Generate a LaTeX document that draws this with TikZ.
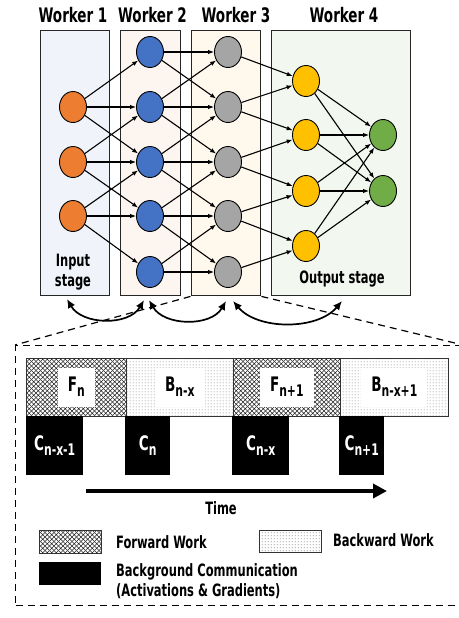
\documentclass[tikz,border=0pt]{standalone}
\usepackage{fontspec}
\setmainfont{DejaVu Sans Condensed}[FakeStretch=0.75]
\usetikzlibrary{shapes.geometric,arrows.meta,patterns,patterns.meta}
\definecolor{stageOne}{RGB}{240,244,250}
\definecolor{stageTwo}{RGB}{252,245,240}
\definecolor{stageThree}{RGB}{255,249,237}
\definecolor{stageFour}{RGB}{242,248,240}
\definecolor{nodeOrange}{RGB}{237,125,49}
\definecolor{nodeBlue}{RGB}{68,114,196}
\definecolor{nodeGray}{RGB}{165,165,165}
\definecolor{nodeYellow}{RGB}{255,192,0}
\definecolor{nodeGreen}{RGB}{112,173,71}
\newcommand{\subidx}[1]{\raisebox{-0.45ex}{\fontsize{16}{16}\selectfont #1}}
\tikzdeclarepattern{name=diamonds, type=uncolored,
  bounding box={(-0.5pt,-0.5pt) and (5pt,5pt)}, tile size={(4.5pt,4.5pt)},
  code={\draw[line width=0.45pt] (0,0) -- (4.5pt,4.5pt) (0,4.5pt) -- (4.5pt,0);}}
\tikzdeclarepattern{name=sparsedots, type=uncolored,
  bounding box={(0,0) and (3pt,3pt)}, tile size={(3pt,3pt)},
  code={\fill (1.5pt,1.5pt) circle (0.6pt);}}

\begin{document}
\begin{tikzpicture}[x=1pt, y=1pt,
    stage/.style={draw=black!85, line width=1.4pt, anchor=north west, inner sep=0pt, minimum height=265pt},
    neuron/.style={ellipse, draw=black, line width=0.9pt, minimum width=27pt, minimum height=31pt, inner sep=0pt},
    link/.style={-{Latex[length=6pt,width=4.5pt]}, line width=1.1pt},
    handoff/.style={{Latex[length=9pt,width=8pt]}-{Latex[length=9pt,width=8pt]}, line width=1.7pt},
    zoomline/.style={line width=1.2pt, dash pattern=on 7pt off 5pt},
    title/.style={font=\bfseries\fontsize{20}{22}\selectfont},
    fwdfill/.style={pattern=diamonds, pattern color=black!85},
    bwdfill/.style={pattern=sparsedots, pattern color=black!70},
    cell/.style={draw=black!80, line width=0.6pt, anchor=north west, inner sep=0pt, minimum height=57.5pt},
    celltext/.style={fill=white, inner xsep=10pt, minimum height=39pt, font=\bfseries\fontsize{20}{22}\selectfont},
    comm/.style={fill=black, text=white, anchor=north west, inner sep=0pt, minimum height=59pt, font=\bfseries\fontsize{20}{22}\selectfont},
    legtext/.style={anchor=west, inner sep=0pt, font=\bfseries\fontsize{17}{20}\selectfont}]
\useasboundingbox (0,0) rectangle (458,-618);

% Workers
\node[stage, fill=stageOne, minimum width=69pt] (w1) at (40,-30) {};
\node[stage, fill=stageTwo, minimum width=60pt] (w2) at (120,-30) {};
\node[stage, fill=stageThree, minimum width=69.5pt] (w3) at (190.5,-30) {};
\node[stage, fill=stageFour, minimum width=139.5pt] (w4) at (270.5,-30) {};
\node[title] (t1) at (73,-15) {Worker 1};
\node[title] (t2) at (152.5,-15) {Worker 2};
\node[title] (t3) at (236,-15) {Worker 3};
\node[title] (t4) at (344,-15) {Worker 4};
\node[align=center, font=\bfseries\fontsize{17}{20}\selectfont] (inlabel) at (73,-272) {Input\\stage};
\node[font=\bfseries\fontsize{17}{20}\selectfont] (outlabel) at (342,-279) {Output stage};

% Input layer
\node[neuron, fill=nodeOrange] (in1) at (73,-107) {};
\node[neuron, fill=nodeOrange] (in2) at (73,-162) {};
\node[neuron, fill=nodeOrange] (in3) at (73,-216) {};

% Hidden layers
\node[neuron, fill=nodeBlue] (blu1) at (150,-52) {};
\node[neuron, fill=nodeBlue] (blu2) at (150,-107) {};
\node[neuron, fill=nodeBlue] (blu3) at (150,-162) {};
\node[neuron, fill=nodeBlue] (blu4) at (150,-216) {};
\node[neuron, fill=nodeBlue] (blu5) at (150,-272) {};
\node[neuron, fill=nodeGray] (gry1) at (228,-52) {};
\node[neuron, fill=nodeGray] (gry2) at (228,-107) {};
\node[neuron, fill=nodeGray] (gry3) at (228,-162) {};
\node[neuron, fill=nodeGray] (gry4) at (228,-216) {};
\node[neuron, fill=nodeGray] (gry5) at (228,-272) {};

% Output layers
\node[neuron, fill=nodeYellow] (ylw1) at (306,-81) {};
\node[neuron, fill=nodeYellow] (ylw2) at (306,-135) {};
\node[neuron, fill=nodeYellow] (ylw3) at (306,-191) {};
\node[neuron, fill=nodeYellow] (ylw4) at (306,-246) {};
\node[neuron, fill=nodeGreen] (grn1) at (383,-135) {};
\node[neuron, fill=nodeGreen] (grn2) at (383,-191) {};

% Links
\draw[link] (in1) -- (blu1);
\draw[link] (in1) -- (blu2);
\draw[link] (in1) -- (blu3);
\draw[link] (in2) -- (blu2);
\draw[link] (in2) -- (blu3);
\draw[link] (in2) -- (blu4);
\draw[link] (in3) -- (blu3);
\draw[link] (in3) -- (blu4);
\draw[link] (in3) -- (blu5);
\draw[link] (blu1) -- (gry1);
\draw[link] (blu1) -- (gry2);
\draw[link] (blu2) -- (gry1);
\draw[link] (blu2) -- (gry2);
\draw[link] (blu2) -- (gry3);
\draw[link] (blu3) -- (gry2);
\draw[link] (blu3) -- (gry3);
\draw[link] (blu3) -- (gry4);
\draw[link] (blu4) -- (gry3);
\draw[link] (blu4) -- (gry4);
\draw[link] (blu4) -- (gry5);
\draw[link] (blu5) -- (gry4);
\draw[link] (blu5) -- (gry5);
\draw[link] (gry1) -- (ylw1);
\draw[link] (gry2) -- (ylw1);
\draw[link] (gry2) -- (ylw2);
\draw[link] (gry3) -- (ylw2);
\draw[link] (gry3) -- (ylw3);
\draw[link] (gry4) -- (ylw3);
\draw[link] (gry4) -- (ylw4);
\draw[link] (gry5) -- (ylw4);
\draw[link] (ylw1) -- (grn1);
\draw[link] (ylw1) -- (grn2);
\draw[link] (ylw2) -- (grn1);
\draw[link] (ylw2) -- (grn2);
\draw[link] (ylw3) -- (grn1);
\draw[link] (ylw3) -- (grn2);
\draw[link] (ylw4) -- (grn1);
\draw[link] (ylw4) -- (grn2);

% Exchange between workers
\coordinate (x1) at (67,-299);
\coordinate (x2) at (144,-300);
\coordinate (x3) at (149,-300);
\coordinate (x4) at (226,-301);
\coordinate (x5) at (233,-301);
\coordinate (x6) at (342,-301);
\draw[handoff] (x1) to[out=-60, in=-120] (x2);
\draw[handoff] (x3) to[out=-60, in=-120] (x4);
\draw[handoff] (x5) to[out=-50, in=-130, looseness=0.9] (x6);

% Zoomed detail
\node[draw, zoomline, anchor=north west, inner sep=0pt, minimum width=447pt, minimum height=260pt] (detail) at (15,-345) {};
\draw[zoomline] (w3.south west) -- (detail.north west);
\draw[zoomline] (w3.south east) -- (detail.north east);

% Work
\node[cell, fwdfill, minimum width=100pt] (fw1) at (26,-358) {};
\node[cell, bwdfill, minimum width=107pt] (bw1) at (126,-358) {};
\node[cell, fwdfill, minimum width=107pt] (fw2) at (233,-358) {};
\node[cell, bwdfill, minimum width=108pt] (bw2) at (340,-358) {};
\node[celltext] (lf1) at (fw1) {F\subidx{n}};
\node[celltext] (lb1) at (bw1) {B\subidx{n-x}};
\node[celltext] (lf2) at (fw2) {F\subidx{n+1}};
\node[celltext] (lb2) at (bw2) {B\subidx{n-x+1}};

% Communication
\node[comm, minimum width=57pt] (c1) at (26,-415.5) {C\subidx{n-x-1}};
\node[comm, minimum width=45pt] (c2) at (125,-415.5) {C\subidx{n}};
\node[comm, minimum width=57pt] (c3) at (232,-415.5) {C\subidx{n-x}};
\node[comm, minimum width=45pt] (c4) at (339,-415.5) {C\subidx{n+1}};

% Time
\coordinate (tstart) at (86,-491);
\coordinate (tend) at (387,-491);
\draw[line width=4pt, -{Triangle[length=14pt,width=14pt]}] (tstart) -- (tend);
\node[font=\bfseries\fontsize{17}{20}\selectfont] (time) at (221,-508) {Time};

% Legend
\node[draw=black!80, line width=0.6pt, fwdfill, minimum width=62pt, minimum height=23pt] (lgf) at (70,-541.5) {};
\node[legtext] (lgftext) at (116,-542) {Forward Work};
\node[draw=black!80, line width=0.6pt, bwdfill, minimum width=62pt, minimum height=22pt] (lgb) at (290,-541) {};
\node[legtext] (lgbtext) at (333,-540) {Backward Work};
\node[fill=black, minimum width=62pt, minimum height=23pt] (lgc) at (70,-573.5) {};
\node[legtext, anchor=north west, align=left] (lgctext) at (116,-563) {Background Communication\\(Activations \& Gradients)};
\end{tikzpicture}
\end{document}
